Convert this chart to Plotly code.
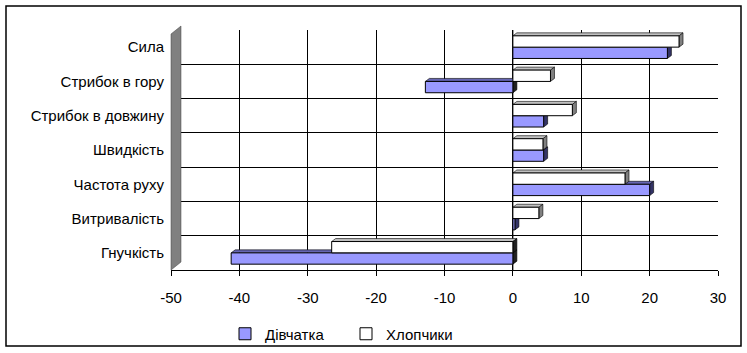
import plotly.graph_objects as go

categories = ["Гнучкість", "Витривалість", "Частота руху", "Швидкість",
              "Стрибок в довжину", "Стрибок в гору", "Сила"]
girls = [-41.2, 0.3, 20.0, 4.5, 4.5, -12.8, 22.6]
boys = [-26.5, 3.8, 16.4, 4.4, 8.7, 5.5, 24.3]
x_ticks = [-50, -40, -30, -20, -10, 0, 10, 20, 30]

W, H = 747, 353
ml, mr, mt, mb = 171, 29, 30, 83
pw = W - ml - mr
ph = H - mt - mb
pos = list(range(len(categories)))
bargap = 0.34
xr = [-50, 30]
yr = [-0.5, len(categories) - 0.5]

fig = go.Figure()
fig.add_trace(go.Bar(y=pos, x=girls, orientation="h", name="Дівчатка",
                     marker=dict(color="#9999FF", line=dict(color="black", width=1))))
fig.add_trace(go.Bar(y=pos, x=boys, orientation="h", name="Хлопчики",
                     marker=dict(color="white", line=dict(color="black", width=1))))

# pseudo-3D faces derived from the data
dx = 4 * (xr[1] - xr[0]) / pw
dy = 3 * (yr[1] - yr[0]) / ph
bw = (1 - bargap) / 2
series = [(girls, -bw / 2, "#6666B3", "#333366"),
          (boys, bw / 2, "#C0C0C0", "#808080")]
for vals, off, topc, sidec_pos in series:
    for p, v in zip(pos, vals):
        yc = p + off
        yb, yt = yc - bw / 2, yc + bw / 2
        x0, x1 = min(0, v), max(0, v)
        sidec = sidec_pos if v > 0 else "#202020"
        fig.add_shape(type="path", xref="x", yref="y", layer="between",
                      path=f"M {x0} {yt} L {x1} {yt} L {x1+dx} {yt+dy} L {x0+dx} {yt+dy} Z",
                      fillcolor=topc, line=dict(color="black", width=0.6))
        fig.add_shape(type="path", xref="x", yref="y", layer="between",
                      path=f"M {x1} {yb} L {x1} {yt} L {x1+dx} {yt+dy} L {x1+dx} {yb+dy} Z",
                      fillcolor=sidec, line=dict(color="black", width=0.6))

# outer frame (paper coords)
fig.add_shape(type="rect", xref="paper", yref="paper",
              x0=(6 - ml) / pw, x1=(741 - ml) / pw,
              y0=(H - mb - 346) / ph, y1=(H - mb - 6) / ph,
              line=dict(color="black", width=1.5), fillcolor="rgba(0,0,0,0)", layer="below")
# grey left wall
fig.add_shape(type="path", xref="paper", yref="paper",
              path=f"M 0 0 L {10/pw} {8/ph} L {10/pw} {1+4/ph} L 0 {1-4/ph} Z",
              fillcolor="#808080", line=dict(color="#404040", width=0.5), layer="above")
# zero line
fig.add_shape(type="line", xref="x", yref="paper", x0=0, x1=0, y0=0, y1=1,
              line=dict(color="black", width=1), layer="below")

fig.update_layout(
    width=W, height=H, margin=dict(l=ml, r=mr, t=mt, b=mb, autoexpand=False),
    paper_bgcolor="white", plot_bgcolor="white",
    barmode="group", bargap=bargap, bargroupgap=0.0,
    font=dict(family="Liberation Sans, Arial, sans-serif", size=15, color="black"),
    xaxis=dict(range=xr, tickvals=x_ticks, ticktext=[str(t) for t in x_ticks],
               showgrid=True, gridcolor="black",
               gridwidth=1, zeroline=False, showline=True, linecolor="black",
               ticks="outside", ticklen=5, tickcolor="black", ticklabelstandoff=9),
    yaxis=dict(range=yr, tickvals=pos, ticktext=categories,
               showgrid=False, zeroline=False, showline=False, ticks="",
               ticklabelstandoff=6,
               minor=dict(tickvals=[p + 0.5 for p in pos[:-1]] + [len(categories) - 0.5],
                          showgrid=True, gridcolor="black", gridwidth=1)),
    legend=dict(orientation="h", xref="container", yref="container",
                x=225 / W, xanchor="left",
                y=1 - 334 / H, yanchor="middle", font=dict(size=15),
                bgcolor="rgba(0,0,0,0)", entrywidth=76, entrywidthmode="pixels",
                itemwidth=30, traceorder="normal"),
    showlegend=True,
)

fig.write_html("out.html")
